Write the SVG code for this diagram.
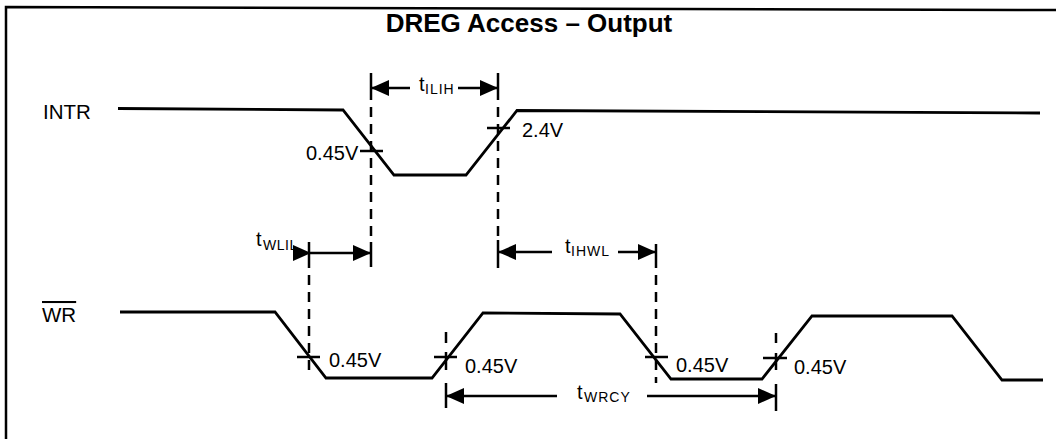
<svg xmlns="http://www.w3.org/2000/svg" width="1056" height="439" viewBox="0 0 1056 439">
  <defs>
    <marker id="ah" viewBox="0 0 18 16" refX="17" refY="8" markerWidth="18" markerHeight="16" markerUnits="userSpaceOnUse" orient="auto">
      <path d="M0,0 L18,8 L0,16 z" fill="#000"/>
    </marker>
    <style>
      .sig { fill: none; stroke: #000; stroke-width: 2.8; stroke-linejoin: miter; }
      .frame { fill: none; stroke: #000; stroke-width: 2.5; }
      .tick { stroke: #000; stroke-width: 2.5; fill: none; }
      .dash { stroke: #000; stroke-width: 2.5; stroke-dasharray: 10 7; fill: none; }
      .dim { stroke: #000; stroke-width: 2.4; fill: none; marker-end: url(#ah); }
      .dim2 { stroke: #000; stroke-width: 2.4; fill: none; marker-start: url(#ah); marker-end: url(#ah); }
      .lbl { font-family: "Liberation Sans", Arial, sans-serif; font-size: 20.5px; fill: #000; }
      .val { font-family: "Liberation Sans", Arial, sans-serif; font-size: 20px; fill: #000; }
      .title { font-family: "Liberation Sans", Arial, sans-serif; font-size: 26px; font-weight: bold; fill: #000; }
      .t { font-family: "Liberation Sans", Arial, sans-serif; font-size: 20px; fill: #000; }
      .sub { font-size: 14px; letter-spacing: 1px; }
    </style>
  </defs>
  <rect width="1056" height="439" fill="#fff"/>

  <g id="frame">
    <polyline class="frame" points="6,439 6,7 1056,10"/>
  </g>

  <g id="title">
    <text class="title" x="529" y="32" text-anchor="middle">DREG Access – Output</text>
  </g>

  <g id="INTR">
    <text class="lbl" x="43" y="119">INTR</text>
    <polyline class="sig" points="118,108.5 343,110 394,175 466,175 517,110.5 1040,113"/>
    <line class="tick" x1="360" y1="151" x2="383" y2="151"/>
    <text class="val" x="306" y="159.5">0.45V</text>
    <line class="tick" x1="487" y1="128" x2="510" y2="128"/>
    <text class="val" x="522" y="137">2.4V</text>
  </g>

  <g id="WR">
    <text class="lbl" x="42" y="322" text-decoration="overline" style="text-decoration: overline;">WR</text>
    <polyline class="sig" points="120,312 275,312 326,378 432,378 483,313 620,314 671,379 762,379 812,316 952,316 1002,380 1043,380"/>
    <line class="tick" x1="297" y1="357" x2="320" y2="357"/>
    <text class="val" x="329" y="367">0.45V</text>
    <line class="tick" x1="434" y1="357" x2="457" y2="357"/>
    <line class="tick" x1="446" y1="332" x2="446" y2="343"/>
    <line class="tick" x1="446" y1="352" x2="446" y2="370"/>
    <text class="val" x="465" y="373">0.45V</text>
    <line class="tick" x1="645" y1="357" x2="668" y2="357"/>
    <text class="val" x="676" y="372">0.45V</text>
    <line class="tick" x1="763" y1="358" x2="787" y2="358"/>
    <line class="tick" x1="776" y1="333" x2="776" y2="343"/>
    <line class="tick" x1="776" y1="353" x2="776" y2="370"/>
    <text class="val" x="794" y="374">0.45V</text>
  </g>

  <g id="connectors">
    <!-- extension lines -->
    <line class="tick" x1="371" y1="73" x2="371" y2="100"/>
    <line class="dash" x1="371" y1="107" x2="371" y2="242"/>
    <line class="tick" x1="498" y1="73" x2="498" y2="100"/>
    <line class="dash" x1="498" y1="107" x2="498" y2="240"/>
    <line class="tick" x1="309" y1="242" x2="309" y2="268"/>
    <line class="tick" x1="371" y1="242" x2="371" y2="267"/>
    <line class="dash" x1="309" y1="275" x2="309" y2="376"/>
    <line class="tick" x1="498" y1="240" x2="498" y2="268"/>
    <line class="tick" x1="656" y1="244" x2="656" y2="268"/>
    <line class="dash" x1="656" y1="275" x2="656" y2="383"/>
    <line class="tick" x1="446" y1="383" x2="446" y2="408"/>
    <line class="tick" x1="776" y1="384" x2="776" y2="411"/>

    <!-- tILIH -->
    <line class="dim" x1="410" y1="88" x2="372" y2="88"/>
    <line class="dim" x1="458" y1="88" x2="497" y2="88"/>
    <!-- tWLIL -->
    <line class="dim2" x1="310" y1="253" x2="370" y2="253"/>
    <!-- tIHWL -->
    <line class="dim" x1="552" y1="252" x2="499" y2="252"/>
    <line class="dim" x1="618" y1="252" x2="655" y2="252"/>
    <!-- tWRCY -->
    <line class="dim" x1="557" y1="396" x2="447" y2="396"/>
    <line class="dim" x1="647" y1="396" x2="775" y2="396"/>
  </g>

  <g id="timing-labels">
    <text class="t" x="419" y="91">t<tspan class="sub" x="425" y="94">ILIH</tspan></text>
    <text class="t" x="256" y="246">t<tspan class="sub" x="263" y="250" style="letter-spacing:0.5px">WLIL</tspan></text>
    <text class="t" x="565" y="253">t<tspan class="sub" x="571" y="256">IHWL</tspan></text>
    <text class="t" x="577" y="399">t<tspan class="sub" x="584" y="402">WRCY</tspan></text>
  </g>
</svg>
